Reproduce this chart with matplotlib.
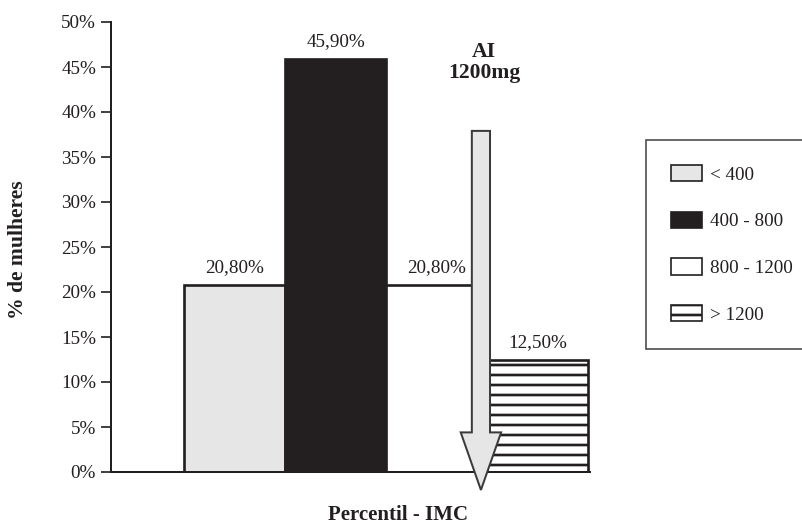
import matplotlib
matplotlib.use("Agg")
import matplotlib.pyplot as plt
from matplotlib.patches import FancyArrow, Patch

plt.rcParams['font.family'] = ['Liberation Serif', 'DejaVu Serif']
plt.rcParams['hatch.linewidth'] = 1.6

# Calcium intake groups (mg/day) and share of women in each
categories = ["< 400", "400 - 800", "800 - 1200", "> 1200"]
values = [20.8, 45.9, 20.8, 12.5]
value_labels = ["20,80%", "45,90%", "20,80%", "12,50%"]
y_ticks = [0, 5, 10, 15, 20, 25, 30, 35, 40, 45, 50]
y_tick_labels = [f"{t}%" for t in y_ticks]

# Adequate intake reference marker
ai_label = "AI\n1200mg"
ai_x = 2.44
ai_top = 37.9
ai_tip = -2.0

fills = ["#e6e6e7", "#231f20", "#ffffff", "#ffffff"]
hatches = [None, None, None, "--"]
ink = "#231f20"

DPI = 120
fig = plt.figure(figsize=(802 / DPI, 524 / DPI), dpi=DPI)
ax = fig.add_axes([111 / 802, 1 - 472 / 524, (590 - 111) / 802, (472 - 22) / 524])

x = range(len(values))
bars = ax.bar(x, values, width=1.0, color=fills, edgecolor=ink,
              linewidth=1.6, zorder=2)
for b, h in zip(bars, hatches):
    if h:
        b.set_hatch(h)

for xi, v, lab in zip(x, values, value_labels):
    ax.annotate(lab, (xi, v), xytext=(0, 5), textcoords="offset points",
                ha="center", va="bottom", fontsize=11.5, color=ink)

ax.set_xlim(-1.223, 3.52)
ax.set_ylim(0, 50)
ax.set_yticks(y_ticks)
ax.set_yticklabels(y_tick_labels, fontsize=11.5, color=ink)
ax.tick_params(axis="y", direction="out", length=6, width=1.0, color=ink, pad=3)
ax.set_xticks([])
for s in ["top", "right"]:
    ax.spines[s].set_visible(False)
for s in ["left", "bottom"]:
    ax.spines[s].set_color(ink)
    ax.spines[s].set_linewidth(1.2)

arrow = FancyArrow(ai_x, ai_top, 0, ai_tip - ai_top, width=0.18,
                   head_width=0.4, head_length=6.4, length_includes_head=True,
                   facecolor="#e6e6e7", edgecolor="#3a3a3a", linewidth=1.2,
                   zorder=4, clip_on=False)
ax.add_patch(arrow)
ax.text(ai_x + 0.03, 45.5, ai_label, ha="center", va="center", fontsize=13,
        fontweight="bold", color=ink, linespacing=1.1)

handles = [Patch(facecolor=f, edgecolor=ink, hatch=h, linewidth=1.0)
           for f, h in zip(fills, hatches)]
leg = fig.legend(handles, categories, loc="upper left",
                 bbox_to_anchor=(646 / 802, 1 - 140 / 524), borderaxespad=0,
                 fontsize=11.5, frameon=True, fancybox=False, edgecolor=ink,
                 handlelength=1.6, handleheight=0.95, labelspacing=1.45,
                 borderpad=1.3, handletextpad=0.45)
leg.get_frame().set_linewidth(1.0)
for t in leg.get_texts():
    t.set_color(ink)

fig.text(18 / 802, 1 - 250 / 524, "% de mulheres", rotation=90, ha="center",
         va="center", fontsize=13, fontweight="bold", color=ink)
fig.text(398 / 802, 1 - 515 / 524, "Percentil - IMC", ha="center", va="center",
         fontsize=12.5, fontweight="bold", color=ink)

fig.savefig("out.png", dpi=DPI)
